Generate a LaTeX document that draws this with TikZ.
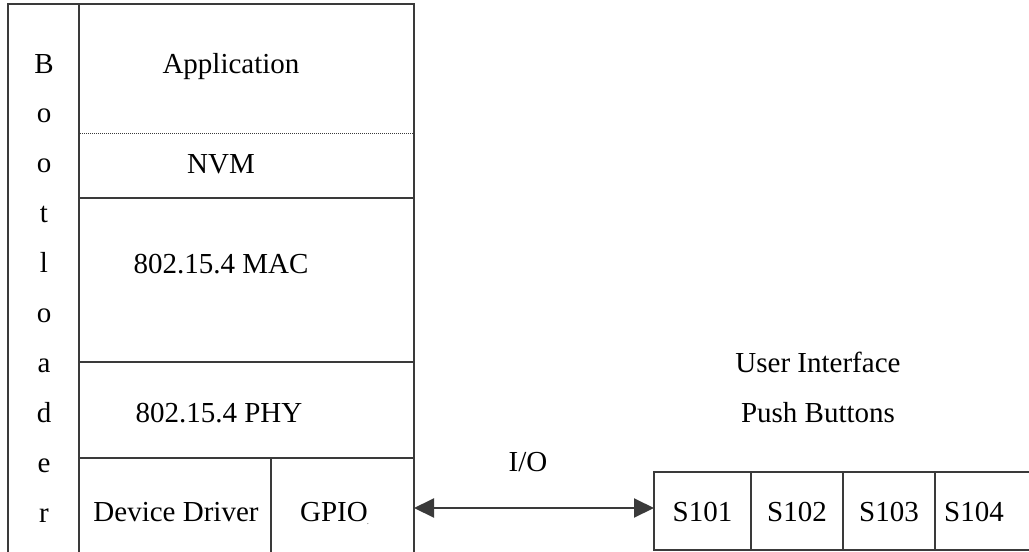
\documentclass[tikz,border=0pt]{standalone}
\usepackage{fontspec}
\setmainfont{Liberation Serif}
\usetikzlibrary{arrows.meta}
\definecolor{ln}{HTML}{3A3A3A}
\begin{document}
\begin{tikzpicture}[x=1pt,y=-1pt,
  frame/.style={draw=ln,line width=2pt,line cap=rect},
  sepdots/.style={draw=ln,line width=1pt,dash pattern=on 1pt off 1pt},
  txt/.style={font=\fontsize{29}{34}\selectfont,anchor=base,inner sep=0pt,outer sep=0pt},
  sbox/.style={draw=ln,line width=2pt,minimum width=#1,minimum height=78pt,inner sep=0pt,outer sep=0pt,anchor=north west,font=\fontsize{29}{34}\selectfont,text height=20pt,text depth=0pt},
  io/.style={draw=ln,line width=2pt,{Triangle[length=20pt,width=19pt]}-{Triangle[length=20pt,width=19pt]}}]
\useasboundingbox (0,0) rectangle (1029,552);

% stack frame
\draw[frame] (8,560) -- (8,4) -- (414,4) -- (414,560);
\draw[frame] (79,4) -- (79,560);
\draw[frame] (79,198) -- (414,198);
\draw[frame] (79,362) -- (414,362);
\draw[frame] (79,458) -- (414,458);
\draw[frame] (271,458) -- (271,560);
\draw[sepdots] (80,133) -- (414,133);

% Bootloader letters
\foreach \l [count=\i from 0] in {B,o,o,t,l,o,a,d,e,r}
  \node[txt] (boot\i) at (44,73+49.9*\i) {\l};

% layer labels
\node[txt] (app) at (231,73) {Application};
\node[txt] (nvm) at (221,173) {NVM};
\node[txt] (mac) at (221,273) {802.15.4 MAC};
\node[txt] (phy) at (219,422) {802.15.4 PHY};
\node[txt] (drv) at (176,521) {Device Driver};
\node[txt] (gpio) at (334,521) {GPIO};
\node[inner sep=0pt,anchor=base,font=\fontsize{7}{7}\selectfont] (gpiodot) at (368,524) {.};

% user interface
\node[txt] (ui) at (818,372) {User Interface};
\node[txt] (pb) at (818,422) {Push Buttons};
\node[txt] (iolbl) at (528,471) {I/O};

% buttons
\node[sbox=97pt] (s101) at (654,472) {S101};
\node[sbox=92pt] (s102) at (751,472) {S102};
\node[sbox=92pt] (s103) at (843,472) {S103};
\draw[frame] (s103.north east) -- (1035,472);
\draw[frame] (s103.south east) -- (1035,550);
\node[txt] (s104) at (974,521) {S104};

% connector
\coordinate (gpioE) at (414,508);
\draw[io] (gpioE) -- (gpioE -| s101.west);
\end{tikzpicture}
\end{document}
